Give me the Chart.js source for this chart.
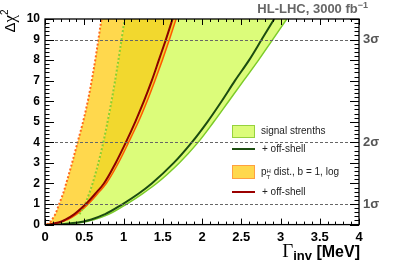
<!DOCTYPE html>
<html>
<head>
<meta charset="utf-8">
<script src="https://cdn.jsdelivr.net/npm/chart.js@4.4.1/dist/chart.umd.min.js"></script>
<style>
body{margin:0;background:#fff;}
#wrap{position:relative;width:399px;height:270px;overflow:hidden;font-family:'Liberation Sans',Arial,sans-serif;}
#c{position:absolute;left:0;top:0;}
.t{position:absolute;white-space:nowrap;}
.lg{position:absolute;white-space:nowrap;font-size:10px;line-height:12px;color:#222;}
.sw{position:absolute;box-sizing:border-box;}
</style>
</head>
<body>
<div id="wrap">
<canvas id="c" width="399" height="270"></canvas>
<div class="t" style="right:31px;top:1px;font-size:13px;font-weight:bold;color:#666;">HL-LHC, 3000 fb<sup style="font-size:9px;vertical-align:5px;line-height:0">&minus;1</sup></div>
<div class="t" style="left:-2px;top:13px;transform:rotate(-90deg);font-size:15px;color:#000;line-height:16px;">&Delta;<span style="font-family:'Liberation Serif',serif;font-size:17px;">&chi;</span><sup style="font-size:10px;vertical-align:7px;line-height:0">2</sup></div>
<div class="t" style="right:39px;top:242px;line-height:18px;color:#000;"><span style="font-family:'Liberation Serif',serif;font-size:19px;">&Gamma;</span><span style="font-size:13px;font-weight:bold;position:relative;top:3px;">inv</span><span style="font-size:16px;font-weight:bold;"> [MeV]</span></div>

<div class="sw" style="left:232px;top:125px;width:23px;height:13px;background:#dcfc7a;border:1px solid #96d23e;"></div>
<div class="lg" style="left:261px;top:125px;">signal strenths</div>
<div class="sw" style="left:232px;top:148px;width:23px;height:2px;background:#1b4d10;"></div>
<div class="lg" style="left:262px;top:143px;">+ off-shell</div>
<div class="sw" style="left:232px;top:165px;width:23px;height:14px;background:#ffd84d;border:1px solid #ffa040;"></div>
<div class="lg" style="left:261px;top:166px;">p<span style="display:inline-block;font-size:6px;line-height:6px;vertical-align:-4px;">H<br>T</span> dist., b = 1, log</div>
<div class="sw" style="left:232px;top:191px;width:23px;height:2px;background:#9b0000;"></div>
<div class="lg" style="left:262px;top:186px;">+ off-shell</div>
</div>
<script>
// Delta chi^2 grid shared by all curves
const dchi2 = [0, 0.1, 0.25, 0.5, 1, 1.5, 2, 3, 4, 5, 6, 7, 8, 9, 10];
// pT^H distribution band (orange)
const ptLeft = [0.02, 0.06, 0.09, 0.13, 0.18, 0.23, 0.27, 0.345, 0.415, 0.485, 0.545, 0.595, 0.64, 0.68, 0.72];
const ptRight = [0.06, 0.19, 0.29, 0.40, 0.55, 0.67, 0.78, 0.935, 1.065, 1.19, 1.30, 1.40, 1.495, 1.585, 1.67];
const ptOffShell = [0.04, 0.17, 0.265, 0.37, 0.52, 0.64, 0.75, 0.90, 1.03, 1.15, 1.26, 1.36, 1.45, 1.54, 1.625];
// signal strengths band (green)
const muLeft = [0.05, 0.18, 0.28, 0.44, 0.51, 0.562, 0.606, 0.68, 0.743, 0.797, 0.847, 0.893, 0.935, 0.975, 1.015];
const muDotted = [null, null, null, 0.44, 0.51, 0.562, 0.606, 0.68, 0.743, 0.797, 0.847, 0.893, 0.935, 0.975, 1.015];
const muRight = [0.18, 0.46, 0.63, 0.81, 1.04, 1.24, 1.42, 1.71, 1.95, 2.15, 2.34, 2.53, 2.72, 2.90, 3.08];
const muOffShell = [0.15, 0.42, 0.59, 0.76, 0.99, 1.19, 1.36, 1.64, 1.87, 2.07, 2.25, 2.42, 2.60, 2.76, 2.92];
// x tick labels and sigma lines on the right axis
const xTickLabels = ['0', '0.5', '1', '1.5', '2', '2.5', '3', '3.5', '4'];
const sigmaLevels = [1, 4, 9];
const sigmaLabels = ['1\u03C3', '2\u03C3', '3\u03C3'];

const FONT = "'Liberation Sans', Arial, sans-serif";

function pts(xs){
    return xs.map((x,i)=>({x:x,y:dchi2[i]})).filter(p=>p.x!==null);
}
function curve(xs, extra){
    return Object.assign({
        data: pts(xs),
        pointRadius: 0,
        borderWidth: 2,
        fill: false,
        cubicInterpolationMode: 'monotone',
        clip: 0
    }, extra);
}

const rootFrame = {
    id: 'rootFrame',
    afterDatasetsDraw(chart){
        const {ctx, chartArea:a} = chart;
        const x = chart.scales.x, y = chart.scales.y;
        ctx.save();
        ctx.strokeStyle = '#666';
        ctx.lineWidth = 1;
        ctx.setLineDash([3,2]);
        sigmaLevels.forEach(v=>{
            const py = Math.round(y.getPixelForValue(v)) + 0.5;
            ctx.beginPath(); ctx.moveTo(a.left, py); ctx.lineTo(a.right, py); ctx.stroke();
        });
        ctx.setLineDash([]);
        ctx.strokeStyle = '#000';
        ctx.beginPath();
        for(let i=0;i<=40;i++){
            const px = Math.round(x.getPixelForValue(i/10)) + 0.5;
            const len = i%5===0 ? 6 : 3;
            ctx.moveTo(px, a.bottom); ctx.lineTo(px, a.bottom-len);
            ctx.moveTo(px, a.top); ctx.lineTo(px, a.top+len);
        }
        for(let i=0;i<=50;i++){
            const py = Math.round(y.getPixelForValue(i/5)) + 0.5;
            const len = i%5===0 ? 9 : 4.5;
            ctx.moveTo(a.left, py); ctx.lineTo(a.left+len, py);
            ctx.moveTo(a.right, py); ctx.lineTo(a.right-len, py);
        }
        ctx.stroke();
        ctx.lineWidth = 1.3;
        ctx.strokeRect(a.left, a.top, a.right-a.left, a.bottom-a.top);
        ctx.restore();
    }
};

new Chart(document.getElementById('c'), {
    type: 'line',
    data: {
        datasets: [
            curve(ptLeft, {borderColor:'#ff6a1a', borderDash:[2,2], order:1}),
            curve(muLeft, {borderColor:'rgba(0,0,0,0)', borderWidth:0, fill:{target:0}, backgroundColor:'#ffd84d', order:10}),
            curve(ptRight, {borderColor:'#ff5a00', borderWidth:1.5, fill:{target:1}, backgroundColor:'#f2d82e', order:9}),
            curve(muRight, {borderColor:'#7ccb2a', borderWidth:1.5, fill:{target:2}, backgroundColor:'#dcfc7a', order:8}),
            curve(muDotted, {borderColor:'#8acf2f', borderDash:[2,2], order:3}),
            curve(ptOffShell, {borderColor:'#8b0000', order:2}),
            curve(muOffShell, {borderColor:'#1b4d10', order:2})
        ]
    },
    options: {
        indexAxis: 'y',
        responsive: false,
        devicePixelRatio: 1,
        animation: false,
        layout: { padding: { top: 19, left: 0, right: 0, bottom: 0 } },
        plugins: {
            legend: { display: false },
            tooltip: { enabled: false },
            filler: { drawTime: 'beforeDatasetsDraw' }
        },
        scales: {
            x: {
                type: 'linear', min: 0, max: 4, position: 'bottom',
                grid: { display: false, drawTicks: false },
                border: { display: false },
                ticks: { stepSize: 0.5, padding: 5, color: '#000', maxRotation: 0, autoSkip: false,
                    font: { family: FONT, size: 13, weight: 'bold' },
                    callback: (v, i) => xTickLabels[i] },
                afterFit: s => { s.height = 45.4; }
            },
            y: {
                type: 'linear', min: 0, max: 10, position: 'left',
                grid: { display: false, drawTicks: false },
                border: { display: false },
                ticks: { stepSize: 1, padding: 5, color: '#000', autoSkip: false,
                    font: { family: FONT, size: 12, weight: 'bold' } },
                afterFit: s => { s.width = 45; }
            },
            y2: {
                type: 'linear', min: 0, max: 10, position: 'right',
                grid: { display: false, drawTicks: false },
                border: { display: false },
                afterBuildTicks: s => { s.ticks = sigmaLevels.map(v => ({value: v})); },
                ticks: { padding: 4, color: '#555', autoSkip: false,
                    font: { family: FONT, size: 13, weight: 'bold' },
                    callback: v => sigmaLabels[sigmaLevels.indexOf(v)] },
                afterFit: s => { s.width = 40; }
            }
        }
    },
    plugins: [rootFrame]
});
</script>
</body>
</html>
